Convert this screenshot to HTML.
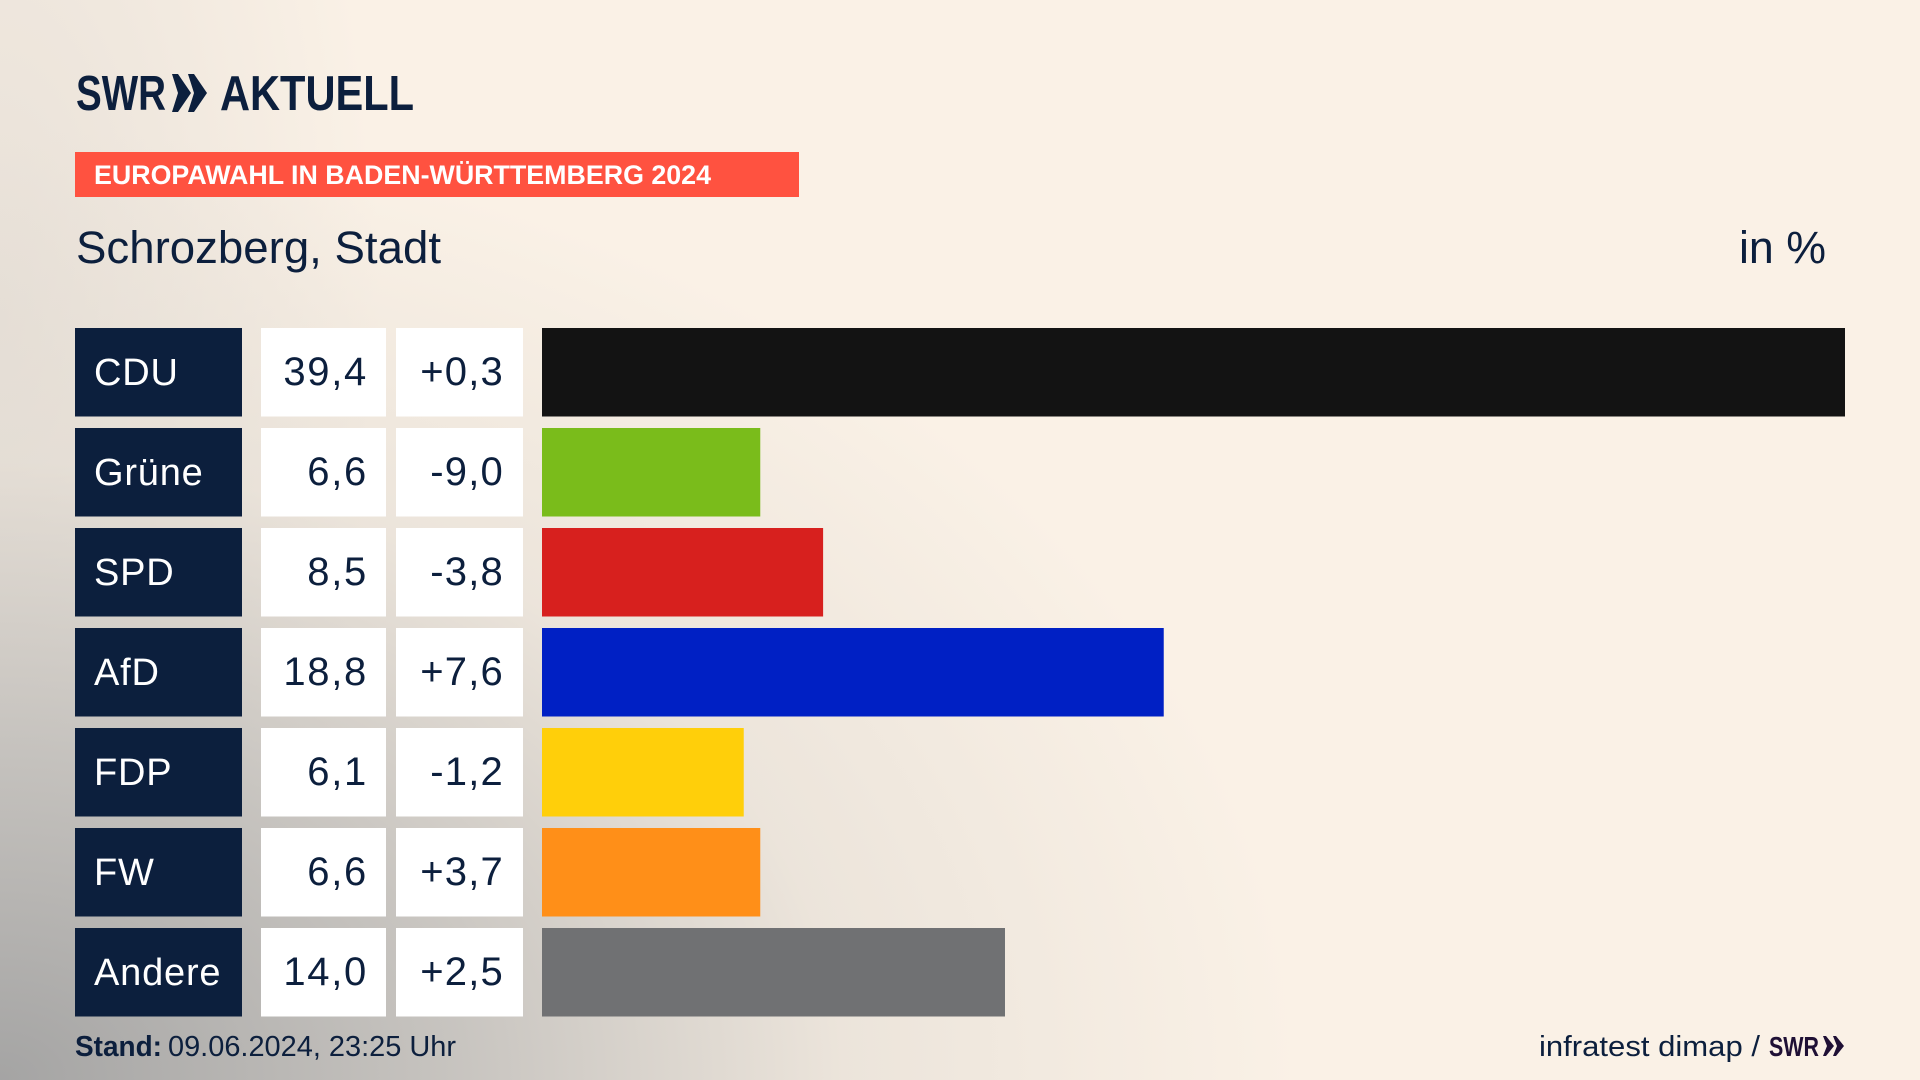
<!DOCTYPE html>
<html lang="de">
<head>
<meta charset="utf-8">
<title>Europawahl in Baden-Württemberg 2024 – Schrozberg, Stadt</title>
<style>
html,body{margin:0;padding:0;width:1920px;height:1080px;overflow:hidden}
body{background:
  radial-gradient(ellipse 1300px 950px at 0px 1080px,rgba(160,160,160,.95) 0%,rgba(188,186,183,.82) 35%,rgba(222,216,208,.5) 65%,rgba(250,241,230,0) 100%),
  radial-gradient(ellipse 380px 900px at 0px 320px,rgba(205,200,195,.4) 0%,rgba(250,241,230,0) 100%),
  #faf1e6;font-family:"Liberation Sans",sans-serif}
svg{position:absolute;left:0;top:0;display:block}
text{font-family:"Liberation Sans",sans-serif}
</style>
</head>
<body>
<svg id="chart" width="1920" height="1080" viewBox="0 0 1920 1080" xmlns="http://www.w3.org/2000/svg">
  <g fill="#0c1f3d">
    <text x="76" y="110" font-size="49" font-weight="700" textLength="90" lengthAdjust="spacingAndGlyphs">SWR</text>
    <polygon points="172,74 178,74 191,93 178,112 172,112 178,93"/>
    <polygon points="188,74 194,74 207,93 194,112 188,112 194,93"/>
    <text x="220" y="110" font-size="49" font-weight="700" textLength="194" lengthAdjust="spacingAndGlyphs">AKTUELL</text>
  </g>
  <rect x="75" y="152" width="724" height="45" fill="#ff5240"/>
  <text x="94" y="184" font-size="27" font-weight="700" fill="#fff" textLength="617" lengthAdjust="spacingAndGlyphs">EUROPAWAHL IN BADEN-WÜRTTEMBERG 2024</text>
  <text x="76" y="263" font-size="45" fill="#0c1f3d" textLength="365" lengthAdjust="spacingAndGlyphs">Schrozberg, Stadt</text>
  <text x="1739" y="263" font-size="45" fill="#0c1f3d" textLength="87" lengthAdjust="spacingAndGlyphs">in %</text>
  <g id="rows"></g>
  <text x="75" y="1056" font-size="29" font-weight="700" fill="#0c1f3d" textLength="87" lengthAdjust="spacingAndGlyphs">Stand:</text>
  <text x="168" y="1056" font-size="29" fill="#0c1f3d" textLength="288" lengthAdjust="spacingAndGlyphs">09.06.2024, 23:25 Uhr</text>
  <text x="1539" y="1056" font-size="29" fill="#0c1f3d" textLength="221" lengthAdjust="spacingAndGlyphs">infratest dimap /</text>
  <g fill="#1f1035">
    <text x="1769" y="1056" font-size="28" font-weight="700" textLength="50" lengthAdjust="spacingAndGlyphs">SWR</text>
    <polygon points="1823,1036 1826,1036 1834,1046 1826,1056 1823,1056 1827,1046"/>
    <polygon points="1833,1036 1836,1036 1844,1046 1836,1056 1833,1056 1837,1046"/>
  </g>
</svg>
<script>
const categories = ["CDU", "Grüne", "SPD", "AfD", "FDP", "FW", "Andere"];
const shares = [39.4, 6.6, 8.5, 18.8, 6.1, 6.6, 14.0];
const changes = [0.3, -9.0, -3.8, 7.6, -1.2, 3.7, 2.5];
const partyColors = ["#131313", "#7abc1b", "#d7201e", "#0020c4", "#ffcf0a", "#ff8f18", "#707173"];

const SVG_NS = "http://www.w3.org/2000/svg";
const rowsGroup = document.getElementById("rows");
const BAR_LEFT = 542, BAR_SCALE = 1303 / 39.4;
const ROW_TOP = 328, ROW_STEP = 100, ROW_HEIGHT = 88.5;

function xScale(v) { return BAR_LEFT + v * BAR_SCALE; }
function yBand(i) { return ROW_TOP + i * ROW_STEP; }
function formatShare(v) { return v.toFixed(1).replace(".", ","); }
function formatChange(v) { return (v > 0 ? "+" : "") + v.toFixed(1).replace(".", ","); }

function makeRect(x, y, w, h, fill) {
  const r = document.createElementNS(SVG_NS, "rect");
  r.setAttribute("x", x);
  r.setAttribute("y", y);
  r.setAttribute("width", w);
  r.setAttribute("height", h);
  r.setAttribute("fill", fill);
  return r;
}
function makeText(str, x, y, fill, anchor, size, spacing) {
  const t = document.createElementNS(SVG_NS, "text");
  t.setAttribute("x", x);
  t.setAttribute("y", y);
  t.setAttribute("fill", fill);
  t.setAttribute("text-anchor", anchor);
  t.setAttribute("font-size", size);
  t.setAttribute("letter-spacing", spacing);
  t.textContent = str;
  return t;
}

categories.forEach(function (name, i) {
  const y = yBand(i), base = y + 57;

  const nameBox = makeRect(75, y, 167, ROW_HEIGHT, "#0c1f3d");
  
  
  rowsGroup.appendChild(nameBox);

  const nameLabel = makeText(name, 94, base, "#ffffff", "start", 38, 0.8);
  
  
  rowsGroup.appendChild(nameLabel);

  const shareBox = makeRect(261, y, 125, ROW_HEIGHT, "#ffffff");
  
  
  rowsGroup.appendChild(shareBox);

  const shareLabel = makeText(formatShare(shares[i]), 368, base, "#0c1f3d", "end", 40, 1.7);
  
  
  rowsGroup.appendChild(shareLabel);

  const changeBox = makeRect(396, y, 127, ROW_HEIGHT, "#ffffff");
  
  
  rowsGroup.appendChild(changeBox);

  const changeLabel = makeText(formatChange(changes[i]), 504, base, "#0c1f3d", "end", 40, 1.2);
  
  
  rowsGroup.appendChild(changeLabel);

  const bar = makeRect(xScale(0), y, xScale(shares[i]) - xScale(0), ROW_HEIGHT, partyColors[i]);
  
  
  rowsGroup.appendChild(bar);
});
</script>
</body>
</html>
